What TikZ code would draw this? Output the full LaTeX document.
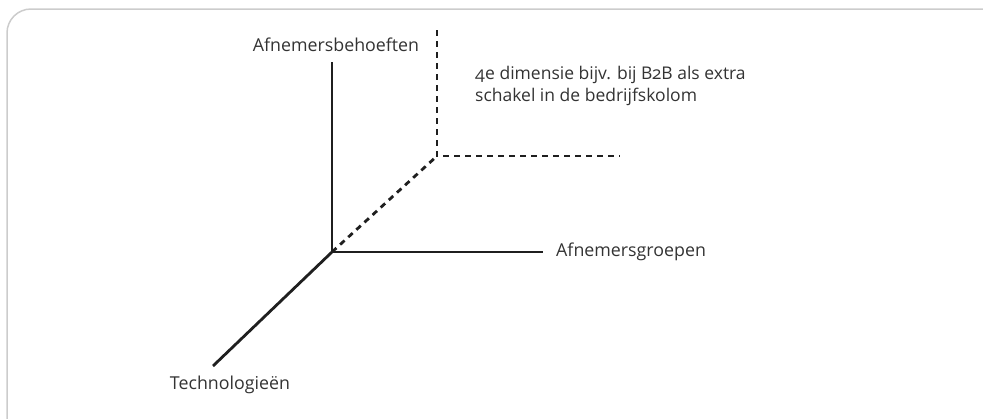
\documentclass[tikz,border=0pt]{standalone}
\usepackage{fontspec}
\setmainfont[Numbers=OldStyle]{Open Sans}
\begin{document}
\begin{tikzpicture}[x=1pt,y=-1pt,
  axis/.style={line width=2.8pt, draw=black!88},
  dimline/.style={line width=2.8pt, draw=black!88, dash pattern=on 6pt off 5pt},
  lbl/.style={text=black!80, font=\fontsize{17.8}{21}\selectfont, inner sep=0pt}]
\useasboundingbox (0,0) rectangle (983,418);
\begin{scope}
\clip (0,0) rectangle (983,418);
\draw[draw=black!20, line width=1.5pt, rounded corners=24pt] (7,9) rectangle (1010,445);
\end{scope}
\coordinate (o) at (332,252);
\coordinate (up) at (332,62);
\coordinate (right) at (543,252);
\coordinate (down) at (213,366);
\coordinate (d) at (437,156);
\coordinate (dup) at (437,30);
\coordinate (dright) at (620,156);
\node[lbl, anchor=center] (nb) at (336,45) {Afnemersbehoeften};
\node[lbl, anchor=west] (ng) at (556,252) {Afnemersgroepen};
\node[lbl, anchor=center] (nt) at (230,385) {Technologieën};
\node[lbl, anchor=west, align=left, font=\fontsize{17.5}{22}\selectfont] (n4) at (475,86) {4e dimensie bijv. bij B2B als extra\\schakel in de bedrijfskolom};
\draw[axis, line cap=butt] (up) -- (o) -- (right);
\draw[axis] (o) -- (down);
\draw[dimline] (o) -- (d);
\draw[dimline] (dup) -- (d) -- (dright);
\end{tikzpicture}
\end{document}
